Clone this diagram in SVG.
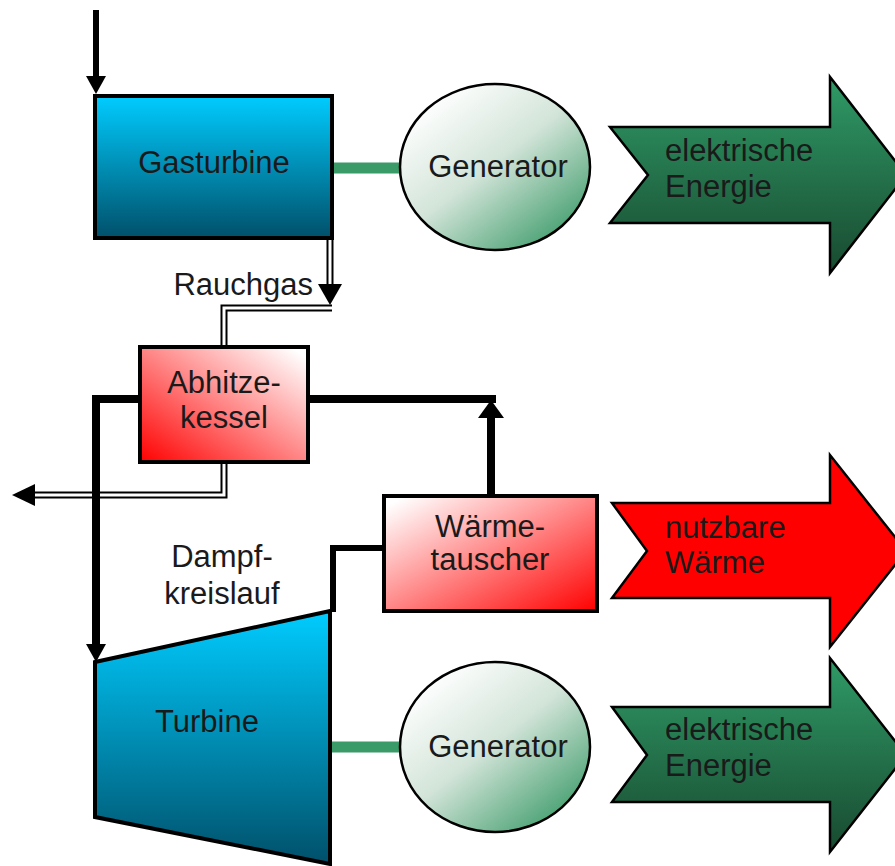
<svg xmlns="http://www.w3.org/2000/svg" width="895" height="866" viewBox="0 0 895 866">
  <defs>
    <linearGradient id="gTurb" x1="0" y1="0" x2="0" y2="1">
      <stop offset="0" stop-color="#00ccff"/>
      <stop offset="1" stop-color="#00506a"/>
    </linearGradient>
    <linearGradient id="gRedA" x1="0" y1="1" x2="1" y2="0">
      <stop offset="0" stop-color="#ff0000"/>
      <stop offset="0.95" stop-color="#ffffff"/>
    </linearGradient>
    <linearGradient id="gRedB" x1="0" y1="0" x2="1" y2="1">
      <stop offset="0.05" stop-color="#ffffff"/>
      <stop offset="1" stop-color="#ff0000"/>
    </linearGradient>
    <linearGradient id="gGen" x1="0.15" y1="0.1" x2="0.9" y2="0.95">
      <stop offset="0" stop-color="#ffffff"/>
      <stop offset="0.45" stop-color="#d2e4d8"/>
      <stop offset="1" stop-color="#3a9a68"/>
    </linearGradient>
    <linearGradient id="gGreen" x1="0" y1="0" x2="0" y2="1">
      <stop offset="0" stop-color="#2f9a66"/>
      <stop offset="1" stop-color="#184a30"/>
    </linearGradient>
  </defs>
  <style>
    text { font-family: "Liberation Sans", Arial, sans-serif; font-size: 31px; fill: #1a1a1a; }
    .mid { text-anchor: middle; }
    .box { stroke: #000; stroke-width: 4; }
    .outline { stroke: #000; stroke-width: 2.5; }
    .pipe { fill: none; stroke: #000; stroke-linejoin: miter; }
    .gasOuter { fill: none; stroke: #000; stroke-width: 7; }
    .gasInner { fill: none; stroke: #fff; stroke-width: 3; }
    .shaft { stroke: #3a9a68; stroke-width: 11; }
  </style>

  <!-- connectors -->
  <g id="connectors">
    <!-- flue gas double line: gas turbine to boiler -->
    <polyline class="gasOuter" points="330,238 330,290"/>
    <polyline class="gasInner" points="330,236 330,290"/>
    <polygon points="318,284 342,284 330,305" fill="#000"/>
    <polyline class="gasOuter" points="332,308 224,308 224,347"/>
    <polyline class="gasInner" points="332,308 224,308 224,349"/>
    <!-- flue gas exhaust from boiler -->
    <polyline class="gasOuter" points="224,462 224,495 30,495"/>
    <polyline class="gasInner" points="224,460 224,495 30,495"/>
    <polygon points="35,484 35,506 12,495" fill="#000"/>

    <!-- fuel inlet -->
    <line x1="96" y1="10" x2="96" y2="80" stroke="#000" stroke-width="6"/>
    <polygon points="86,76 106,76 96,94" fill="#000"/>

    <!-- steam loop -->
    <polyline class="pipe" stroke-width="8" points="140,399 96,399 96,648"/>
    <polygon points="86,644 106,644 96,662" fill="#000"/>
    <polyline class="pipe" stroke-width="8" points="308,399 496,399"/>
    <line x1="491" y1="496" x2="491" y2="414" stroke="#000" stroke-width="8"/>
    <polygon points="478,418 504,418 491,400" fill="#000"/>
    <polyline class="pipe" stroke-width="6" points="383,548 333,548 333,612"/>

    <!-- shafts -->
    <line class="shaft" x1="332" y1="168" x2="401" y2="168"/>
    <line class="shaft" x1="330" y1="747" x2="401" y2="747"/>
  </g>

  <g id="gasturbine">
    <rect class="box" x="95" y="96" width="237" height="142" fill="url(#gTurb)"/>
    <text class="mid" x="214" y="173">Gasturbine</text>
  </g>

  <g id="generator1">
    <ellipse class="outline" cx="495" cy="167" rx="95" ry="83" fill="url(#gGen)"/>
    <text class="mid" x="498" y="177">Generator</text>
  </g>

  <g id="strom1">
    <polygon class="outline" points="610,127 830,127 830,77 906,175 830,273 830,223 610,223 648,175" fill="url(#gGreen)"/>
    <text x="665" y="161">elektrische</text>
    <text x="665" y="197">Energie</text>
  </g>

  <text id="rauchgas" x="313" y="295" text-anchor="end">Rauchgas</text>

  <g id="abhitzekessel">
    <rect class="box" x="140" y="347" width="168" height="115" fill="url(#gRedA)"/>
    <text class="mid" x="224" y="393">Abhitze-</text>
    <text class="mid" x="224" y="428">kessel</text>
  </g>

  <g id="waermetauscher">
    <rect class="box" x="384" y="496" width="213" height="115" fill="url(#gRedB)"/>
    <text class="mid" x="490" y="537">Wärme-</text>
    <text class="mid" x="490" y="570">tauscher</text>
  </g>

  <g id="waerme">
    <polygon class="outline" points="612,503 830,503 830,455 906,551 830,647 830,598 612,598 647,551" fill="#ff0000"/>
    <text x="665" y="538">nutzbare</text>
    <text x="665" y="573">Wärme</text>
  </g>

  <text class="mid" x="222" y="567">Dampf-</text>
  <text class="mid" x="222" y="604">kreislauf</text>

  <g id="turbine">
    <polygon class="box" points="95,662 330,611 330,864 95,817" fill="url(#gTurb)"/>
    <text class="mid" x="207" y="732">Turbine</text>
  </g>

  <g id="generator2">
    <ellipse class="outline" cx="495" cy="747" rx="95" ry="85" fill="url(#gGen)"/>
    <text class="mid" x="498" y="757">Generator</text>
  </g>

  <g id="strom2">
    <polygon class="outline" points="612,707 830,707 830,658 906,755 830,852 830,802 612,802 647,755" fill="url(#gGreen)"/>
    <text x="665" y="740">elektrische</text>
    <text x="665" y="776">Energie</text>
  </g>
</svg>
